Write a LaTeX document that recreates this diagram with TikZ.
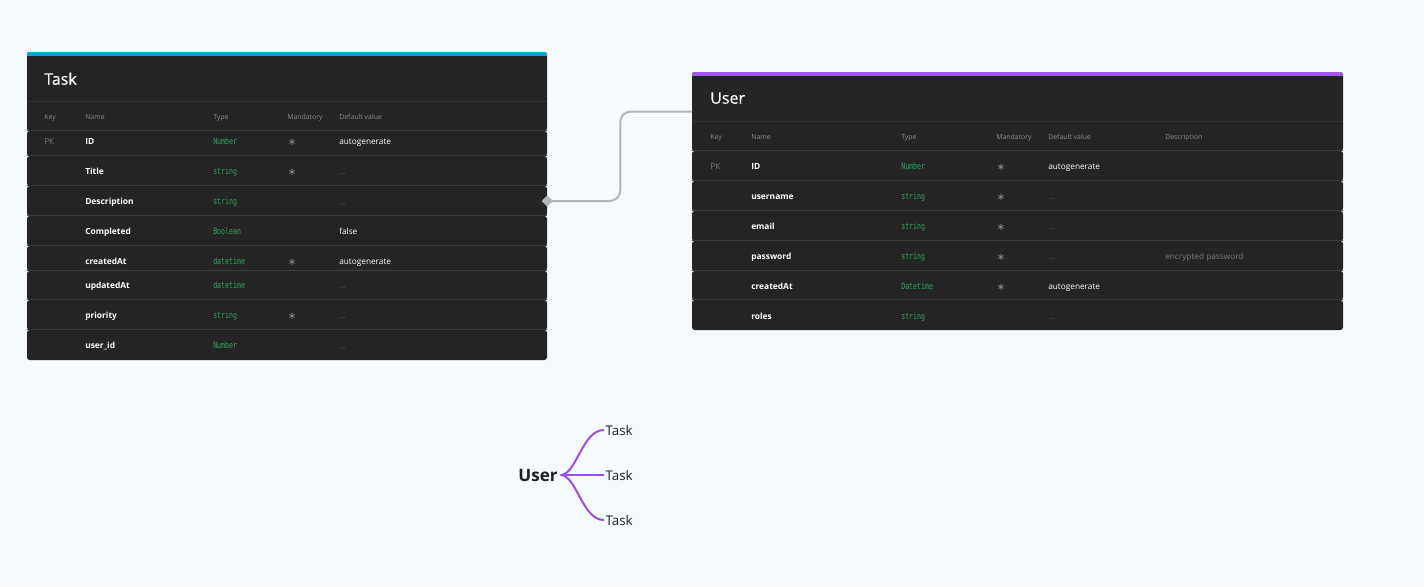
\documentclass[tikz,border=0pt]{standalone}
\usepackage{fontspec}
\setmainfont{Open Sans}
\newfontfamily\monofont[FakeStretch=0.75]{DejaVu Sans Mono}
\newfontfamily\symfont{DejaVu Sans}
\newfontfamily\titlefont[FakeBold=0.4]{Open Sans}
\usetikzlibrary{shapes.geometric,fit}
\definecolor{bgc}{HTML}{F5FAFE}
\definecolor{darkc}{HTML}{242424}
\definecolor{sepc}{HTML}{3C3C3C}
\definecolor{hsepc}{HTML}{333333}
\definecolor{bluec}{HTML}{0BA2DC}
\definecolor{purplec}{HTML}{A259EC}
\definecolor{greenc}{HTML}{2FA65C}
\definecolor{hdtextc}{HTML}{8C8C8C}
\definecolor{pkc}{HTML}{777777}
\definecolor{dotc}{HTML}{555555}
\definecolor{descc}{HTML}{7A7A7A}
\definecolor{connc}{HTML}{B4B4B4}
\definecolor{mmline}{HTML}{9B4DF2}
\definecolor{mmtext}{HTML}{1E1E1E}
\newcommand\mk{{\symfont ∗}}
\newcommand\dt{\textcolor{dotc}{...}}
\tikzset{
  rowbox/.style={fill=darkc, rounded corners=2pt, inner sep=0pt, draw=none},
  sepline/.style={draw=sepc, line width=0.8pt},
  hsep/.style={draw=hsepc, line width=0.6pt},
  ttl/.style={anchor=base west, yshift=-4.3pt, inner sep=0pt, text=white, font=\titlefont\fontsize{12}{14}\selectfont},
  hd/.style={anchor=base west, yshift=-1.9pt, inner sep=0pt, text=hdtextc, font=\fontsize{5.2}{6}\selectfont},
  keyt/.style={anchor=base west, yshift=-2.3pt, inner sep=0pt, text=pkc, font=\fontsize{6.2}{7}\selectfont},
  nm/.style={anchor=base west, yshift=-2.3pt, inner sep=0pt, text=white, font=\fontsize{6.3}{7}\selectfont\bfseries},
  ty/.style={anchor=base west, yshift=-2.4pt, inner sep=0pt, text=greenc, font=\monofont\fontsize{6.6}{7}\selectfont},
  md/.style={anchor=center, yshift=-0.8pt, inner sep=0pt, text=hdtextc, font=\fontsize{7.5}{8}\selectfont},
  dv/.style={anchor=base west, yshift=-2.3pt, inner sep=0pt, text=white, font=\fontsize{6.2}{7}\selectfont},
  dsc/.style={anchor=base west, yshift=-2.3pt, inner sep=0pt, text=descc, font=\fontsize{6.2}{7}\selectfont},
  conn/.style={draw=connc, line width=1.5pt, rounded corners=8pt},
  dia/.style={diamond, aspect=1, fill=connc, inner sep=0pt, minimum width=8.5pt, minimum height=8.5pt},
  mmroot/.style={inner sep=2pt, text=mmtext, font=\fontsize{12.8}{14}\selectfont\bfseries},
  mmleaf/.style={anchor=west, inner sep=1pt, text=mmtext, font=\fontsize{10}{12}\selectfont},
  mmedge/.style={draw=mmline, line width=1.5pt}
}
\begin{document}
\begin{tikzpicture}[x=0.75pt,y=-0.75pt]
\useasboundingbox[fill=bgc] (0,0) rectangle (1424,586);

% ================= Task table =================
\node[rowbox, fit={(27,52) (547,131)}] (thead) {};
\begin{scope}
  \clip[rounded corners=2pt] (27,52) rectangle (547,131);
  \fill[bluec] (27,52) rectangle (547,56);
\end{scope}
\draw[hsep] (thead.west |- 0,101) -- (thead.east |- 0,101);
\node[ttl] (ttitle) at (44,79) {Task};
\node[hd] (th1) at (44,117) {Key};
\node[hd] (th2) at (85,117) {Name};
\node[hd] (th3) at (213,117) {Type};
\node[hd] (th4) at (287,117) {Mandatory};
\node[hd] (th5) at (339,117) {Default value};

\foreach \a/\b [count=\i] in {131/156,156/186,186/216,216/246,246/271,271/300,300/330,330/360}{
  \node[rowbox, fit={(27,\a) (547,\b)}] (t\i) {};
  \draw[sepline] (t\i.north west) -- (t\i.north east);
}
\node[keyt] (tpk) at (44,141) {PK};
\foreach \nm/\ty/\md/\dv/\yy [count=\i] in {
  ID/Number/\mk/autogenerate/141,
  Title/string/\mk/\dt/171,
  Description/string//\dt/201,
  Completed/Boolean//false/231,
  createdAt/datetime/\mk/autogenerate/261,
  updatedAt/datetime//\dt/285,
  priority/string/\mk/\dt/315,
  user\_id/Number//\dt/345}{
  \node[nm] (tn\i) at (85,\yy) {\nm};
  \node[ty] (tt\i) at (213,\yy) {\ty};
  \node[md] (tm\i) at (292,\yy) {\md};
  \node[dv] (td\i) at (339,\yy) {\dv};
}

% ================= User table =================
\node[rowbox, fit={(692,72) (1343,151)}] (uhead) {};
\begin{scope}
  \clip[rounded corners=2pt] (692,72) rectangle (1343,151);
  \fill[purplec] (692,72) rectangle (1343,76);
\end{scope}
\draw[hsep] (uhead.west |- 0,121) -- (uhead.east |- 0,121);
\node[ttl] (utitle) at (710,98) {User};
\node[hd] (uh1) at (710,137) {Key};
\node[hd] (uh2) at (751,137) {Name};
\node[hd] (uh3) at (901,137) {Type};
\node[hd] (uh4) at (996,137) {Mandatory};
\node[hd] (uh5) at (1048,137) {Default value};
\node[hd] (uh6) at (1165,137) {Description};

\foreach \a/\b [count=\i] in {151/181,181/211,211/241,241/271,271/300,300/330}{
  \node[rowbox, fit={(692,\a) (1343,\b)}] (u\i) {};
  \draw[sepline] (u\i.north west) -- (u\i.north east);
}
\node[keyt] (upk) at (710,166) {PK};
\foreach \nm/\ty/\md/\dv/\yy [count=\i] in {
  ID/Number/\mk/autogenerate/166,
  username/string/\mk/\dt/196,
  email/string/\mk/\dt/226,
  password/string/\mk/\dt/256,
  createdAt/Datetime/\mk/autogenerate/286,
  roles/string//\dt/316}{
  \node[nm] (un\i) at (751,\yy) {\nm};
  \node[ty] (ut\i) at (901,\yy) {\ty};
  \node[md] (um\i) at (1001,\yy) {\md};
  \node[dv] (ud\i) at (1048,\yy) {\dv};
}
\node[dsc] (udesc) at (1165,256) {encrypted password};

% ================= connector =================
\draw[conn] (t3.east) -- ++(73,0) |- (uhead.west);
\node[dia] (tdia) at (t3.east) {};

% ================= mind map =================
\node[mmroot] (mroot) at (538,475) {User};
\node[mmleaf] (ml1) at (604,430) {Task};
\node[mmleaf] (ml2) at (604,475) {Task};
\node[mmleaf] (ml3) at (604,520) {Task};
\draw[mmedge] (mroot.east) .. controls +(16,0) and +(-22,0) .. (ml1.west);
\draw[mmedge] (mroot.east) -- (ml2.west);
\draw[mmedge] (mroot.east) .. controls +(16,0) and +(-22,0) .. (ml3.west);
\end{tikzpicture}
\end{document}
